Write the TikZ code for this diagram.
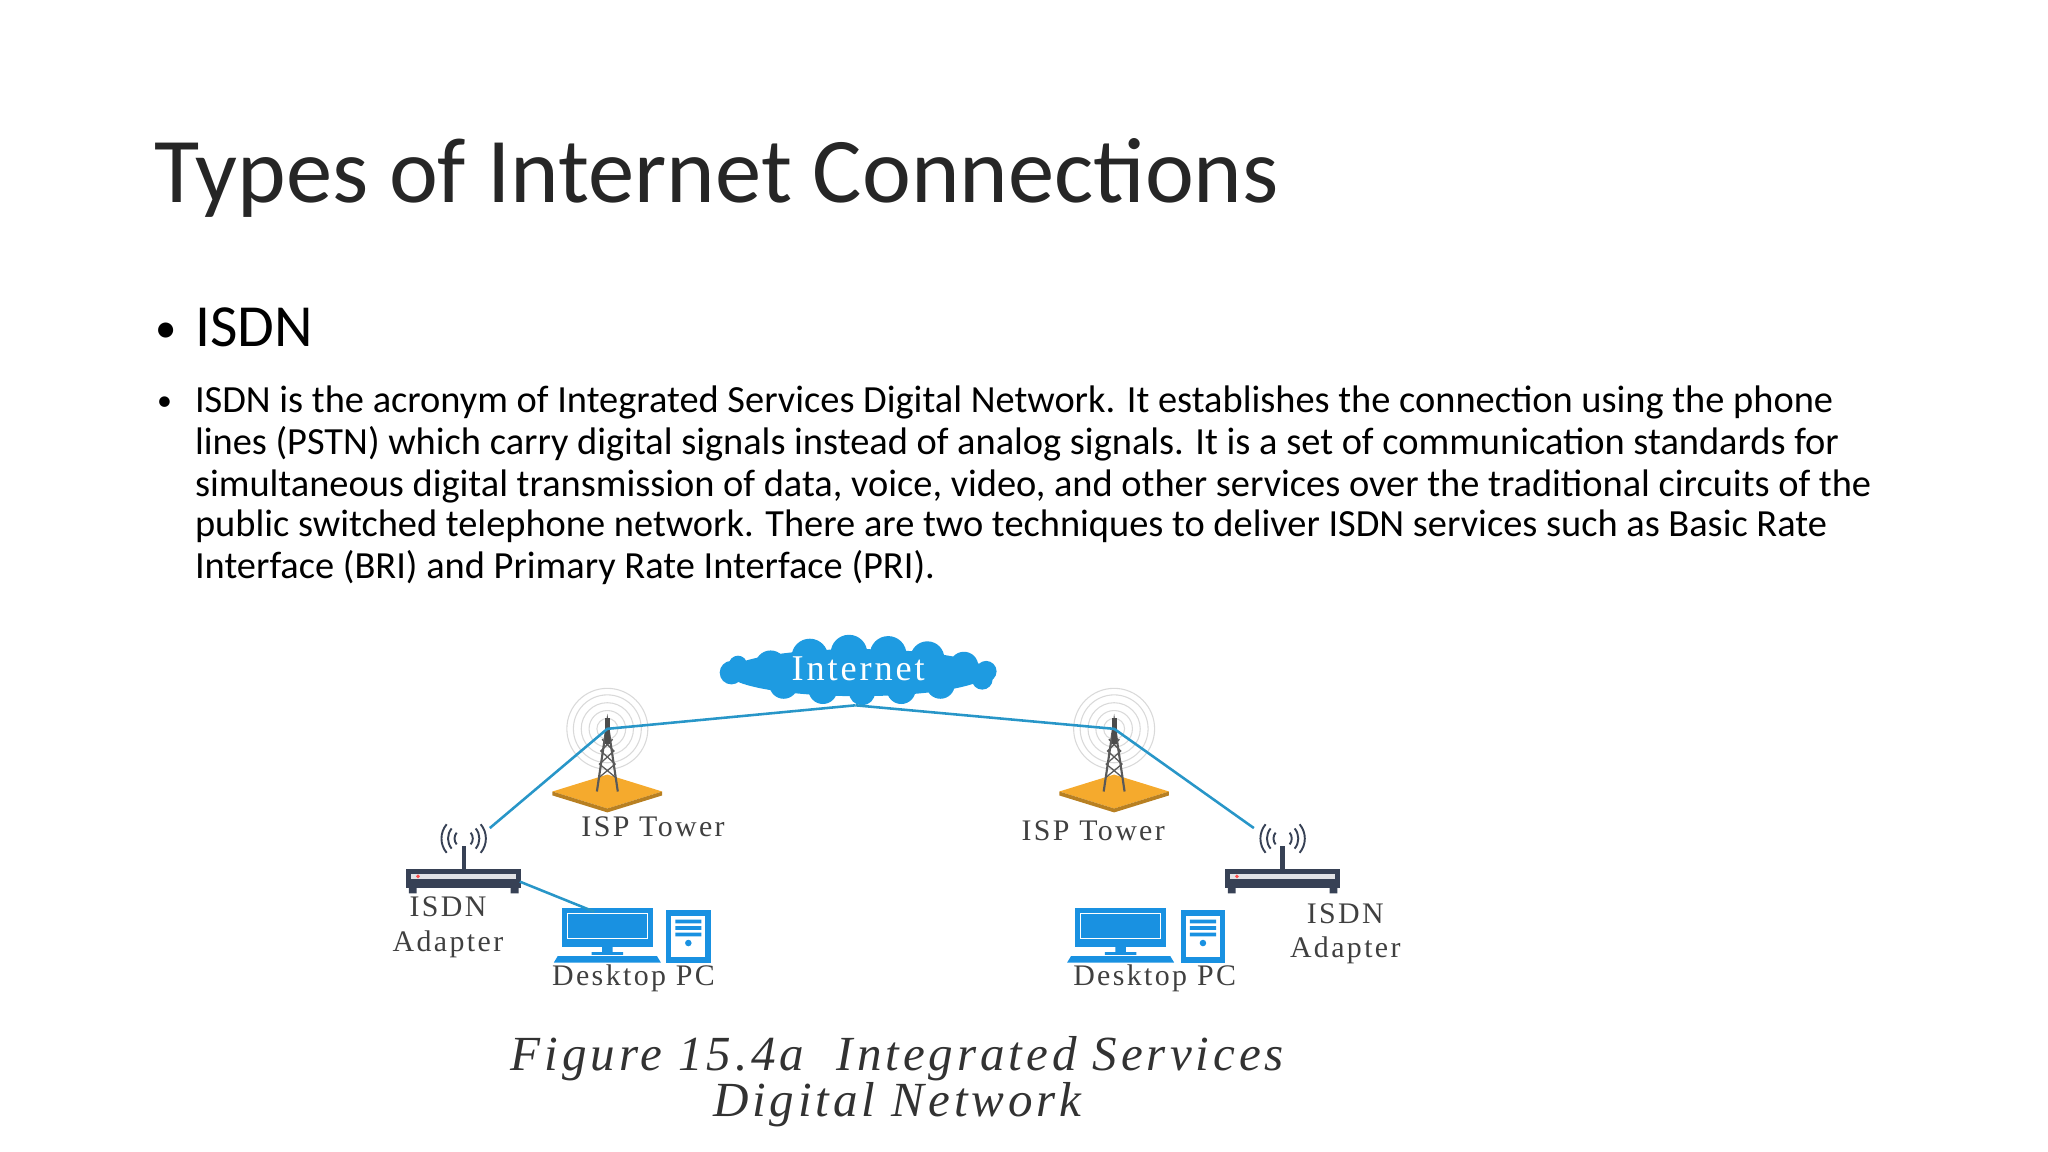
\documentclass[tikz,border=0pt]{standalone}
\usepackage{fontspec}
\setmainfont{Carlito}
\newfontfamily\lightf{Carlito}
\newfontfamily\serf{Liberation Serif}[LetterSpace=8]
\newfontfamily\capf{Liberation Serif}[LetterSpace=8]
\usetikzlibrary{shapes.geometric}
\definecolor{lnk}{RGB}{40,150,200}
\definecolor{cld}{RGB}{30,155,225}
\definecolor{mon}{RGB}{25,145,225}
\definecolor{navy}{RGB}{55,65,85}
\definecolor{org}{RGB}{245,170,45}
\definecolor{capc}{RGB}{50,50,50}
\tikzset{
 bodyl/.style={anchor=base west,font=\fontsize{18}{19}\selectfont,inner sep=0},
 lab/.style={font=\serf\fontsize{14}{15}\selectfont,text=black!75,align=center,inner sep=0},
 link/.style={lnk,line width=1.2pt},
}
\begin{document}
\begin{tikzpicture}[x=0.6122pt,y=-0.6122pt]
\useasboundingbox (0,0) rectangle (1568,882);
\node[anchor=base west,inner sep=0,font=\lightf\fontsize{43.4}{50}\selectfont,text=black!85] (title) at (118,155) {Types of Internet Connections};
\node[anchor=base west,inner sep=0,font=\fontsize{20}{32}\selectfont] (b1) at (119,262) {\textbullet};
\node[anchor=base west,inner sep=0,font=\fontsize{28}{32}\selectfont] (isdn) at (149,265) {ISDN};
\node[anchor=base west,inner sep=0,font=\fontsize{14}{19}\selectfont] (b2) at (120,314) {\textbullet};
\node[bodyl] (l1) at (149,316) {ISDN is the acronym of Integrated Services Digital Network. It establishes the connection using the phone};
\node[bodyl] (l2) at (149,348) {lines (PSTN) which carry digital signals instead of analog signals. It is a set of communication standards for};
\node[bodyl] (l3) at (149,380) {simultaneous digital transmission of data, voice, video, and other services over the traditional circuits of the};
\node[bodyl] (l4) at (149,411) {public switched telephone network. There are two techniques to deliver ISDN services such as Basic Rate};
\node[bodyl] (l5) at (149,443) {Interface (BRI) and Primary Rate Interface (PRI).};
% cloud
\fill[cld] (657,515) ellipse [x radius=100,y radius=18];
\foreach \cx/\cy/\r in {590/510/12,620/503/14,650/500/14,680/501/14,710/504/13,738/510/11,600/524/11,630/528/11,660/530/10,690/528/11,720/524/11,755/514/8,752/520/8,560/515/9,565/509/7}
  \fill[cld] (\cx,\cy) circle (\r);
\node[font=\serf\fontsize{17}{17}\selectfont,text=white] (inet) at (657,512) {Internet};
\coordinate (cb) at (655,540);
% towers
\foreach \n/\tx in {tl/465,tr/853}{
  \foreach \rr in {8,14,20,26,31} \draw[gray!30,line width=0.5pt] (\tx,558) circle (\rr);
  \fill[org] (\tx-42,606) -- (\tx,593) -- (\tx+42,606) -- (\tx,619) -- cycle;
  \fill[org!75!black] (\tx-42,606) -- (\tx,619) -- (\tx+42,606) -- (\tx+42,609) -- (\tx,622) -- (\tx-42,609) -- cycle;
  \draw[gray!70!black,line width=1pt] (\tx-8,606) -- (\tx,552) -- (\tx+8,606);
  \draw[gray!70!black,line width=0.6pt] (\tx-6,595)--(\tx+6,585)--(\tx-5,575)--(\tx+4,566) (\tx+6,595)--(\tx-6,585)--(\tx+5,575)--(\tx-4,566);
  \fill[gray!60!black] (\tx-2,550) rectangle (\tx+2,570);
  \coordinate (\n) at (\tx,558);
}
\node[lab] (tll) at (500,633) {ISP Tower};
\node[lab] (trl) at (837,636) {ISP Tower};
% adapters
\foreach \n/\ax/\dx in {al/355/20,ar/982/-22}{
  \fill[navy] (\ax-44,665) rectangle (\ax+44,680);
  \fill[navy] (\ax-42,680) rectangle (\ax-36,684) (\ax+36,680) rectangle (\ax+42,684);
  \fill[white!85!navy] (\ax-40,669) rectangle (\ax+40,673);
  \fill[red!70] (\ax-35,671) circle (1.5);
  \draw[navy,line width=2pt] (\ax,665) -- (\ax,648);
  \foreach \rr in {7,12,17}{
    \draw[navy,line width=0.9pt] ([shift={(140:\rr)}]\ax,642) arc[start angle=140,end angle=220,radius=\rr];
    \draw[navy,line width=0.9pt] ([shift={(40:\rr)}]\ax,642) arc[start angle=40,end angle=-40,radius=\rr];
  }
  \coordinate (\n) at (\ax+\dx,634);
}
\coordinate (alr) at (398,675);
\node[lab] (all) at (343,710) {ISDN\\[1pt]Adapter};
\node[lab] (arl) at (1030,715) {ISDN\\[1pt]Adapter};
% PCs
\foreach \n/\mx/\tx in {pl/465/527,pr/858/921}{
  \fill[mon] (\mx-35,695) rectangle (\mx+35,725);
  \fill[white] (\mx-31,699) rectangle (\mx+31,719);
  \fill[mon] (\mx-30,700) rectangle (\mx+30,718);
  \fill[mon] (\mx-4,725) rectangle (\mx+4,729) (\mx-12,729) rectangle (\mx+12,731);
  \fill[mon] (\mx-38,732) -- (\mx+38,732) -- (\mx+41,737) -- (\mx-41,737) -- cycle;
  \fill[mon] (\tx-17,697) rectangle (\tx+17,737);
  \fill[white] (\tx-13,701) rectangle (\tx+13,733);
  \fill[mon] (\tx-10,704) rectangle (\tx+10,707) (\tx-10,709) rectangle (\tx+10,712) (\tx-10,714) rectangle (\tx+10,717);
  \fill[mon] (\tx,722) circle (2.5);
  \coordinate (\n) at (\mx-10,698);
}
\node[lab] (pll) at (485,749) {Desktop PC};
\node[lab] (prl) at (884,749) {Desktop PC};
% links
\draw[link] (cb) -- (tl) -- (al);
\draw[link] (cb) -- (tr) -- (ar);
\draw[link] (alr) -- (pl);
% caption
\node[font=\capf\itshape\fontsize{23}{21.5}\selectfont,text=capc,align=center] (cap) at (687,828) {Figure 15.4a\ \ Integrated Services\\Digital Network};
\end{tikzpicture}
\end{document}
